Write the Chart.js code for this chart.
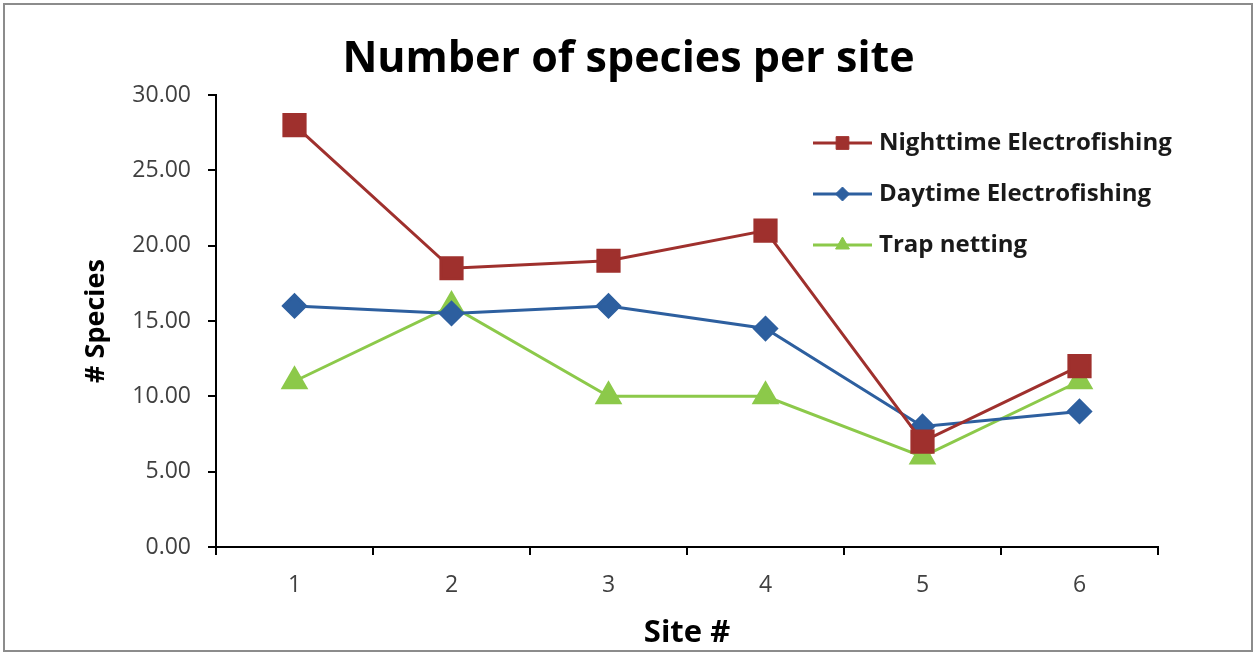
<!DOCTYPE html>
<html>
<head>
<meta charset="utf-8">
<script src="https://cdn.jsdelivr.net/npm/chart.js@4/dist/chart.umd.min.js"></script>
<style>
  html, body { margin: 0; padding: 0; background: #fff; }
  #wrap { position: relative; width: 1257px; height: 655px; }
  #frame { position: absolute; left: 3px; top: 3px; width: 1246px; height: 645px;
           border: 2px solid #8c8c8c; pointer-events: none; }
  canvas { display: block; }
</style>
</head>
<body>
<div id="wrap">
  <canvas id="c" width="1257" height="655"></canvas>
  <div id="frame"></div>
</div>
<script>
// Sites sampled
const sites = ['1', '2', '3', '4', '5', '6'];

// Species counts per site for each sampling method
const nighttimeElectrofishing = [28, 18.5, 19, 21, 7, 12];
const daytimeElectrofishing   = [16, 15.5, 16, 14.5, 8, 9];
const trapNetting             = [11, 16, 10, 10, 6, 11];

// Y axis range
const yMin = 0, yMax = 30, yStep = 5;

const FONT = '"Open Sans", sans-serif';
const RED = '#9f302d', BLUE = '#2d5f9f', GREEN = '#8cc94a';

// Legend drawn inside the plot, top right
const insideLegend = {
  id: 'insideLegend',
  afterDraw(chart, args, opts) {
    const ctx = chart.ctx;
    ctx.save();
    chart.data.datasets.forEach((ds, i) => {
      const y = opts.top + i * opts.rowGap;
      ctx.strokeStyle = ds.borderColor;
      ctx.lineWidth = 3;
      ctx.beginPath();
      ctx.moveTo(opts.x0, y);
      ctx.lineTo(opts.x1, y);
      ctx.stroke();
      ctx.fillStyle = ds.pointBackgroundColor;
      ctx.strokeStyle = ds.pointBorderColor;
      ctx.lineWidth = 1;
      Chart.helpers.drawPoint(ctx, {
        pointStyle: ds.pointStyle,
        radius: opts.markerRadius[i],
        rotation: 0,
        borderWidth: 1
      }, (opts.x0 + opts.x1) / 2, y);
      ctx.fillStyle = '#1a1a1a';
      ctx.font = 'bold 24px ' + FONT;
      ctx.textBaseline = 'middle';
      ctx.textAlign = 'left';
      ctx.fillText(ds.label, opts.textX, y);
    });
    ctx.restore();
  }
};

const series = (label, data, color, style, radius) => ({
  label, data,
  borderColor: color,
  backgroundColor: color,
  pointBackgroundColor: color,
  pointBorderColor: color,
  pointStyle: style,
  pointRadius: radius,
  pointHoverRadius: radius,
  borderWidth: 3,
  tension: 0
});

new Chart(document.getElementById('c'), {
  type: 'line',
  data: {
    labels: sites,
    datasets: [
      series('Nighttime Electrofishing', nighttimeElectrofishing, RED, 'rect', 15),
      series('Daytime Electrofishing', daytimeElectrofishing, BLUE, 'rectRot', 11),
      series('Trap netting', trapNetting, GREEN, 'triangle', 13)
    ]
  },
  options: {
    responsive: false,
    animation: false,
    layout: { padding: 0 },
    plugins: {
      legend: { display: false },
      tooltip: { enabled: false },
      title: {
        display: true,
        text: 'Number of species per site',
        color: '#000',
        font: { family: FONT, size: 43, weight: 'bold', lineHeight: 1.2 },
        padding: { top: 34, bottom: 9.4 }
      },
      insideLegend: {
        x0: 813, x1: 872, textX: 879, top: 143, rowGap: 51,
        markerRadius: [9, 7, 8]
      }
    },
    scales: {
      x: {
        offset: true,
        grid: { offset: true, drawOnChartArea: false, color: '#000', lineWidth: 2, tickLength: 8, tickWidth: 2 },
        border: { color: '#000', width: 2 },
        ticks: { color: '#404040', padding: 17, font: { family: FONT, size: 23 }, maxRotation: 0 },
        title: {
          display: true, text: 'Site #', color: '#000',
          font: { family: FONT, size: 31, weight: 'bold', lineHeight: 1.2 },
          padding: { top: 0, bottom: 3 }
        },
        afterFit(s) { s.height = 108; }
      },
      y: {
        min: yMin, max: yMax,
        grid: { drawOnChartArea: false, color: '#000', lineWidth: 2, tickLength: 8, tickWidth: 2 },
        border: { color: '#000', width: 2 },
        ticks: {
          stepSize: yStep, color: '#404040', padding: 17,
          font: { family: FONT, size: 23 },
          callback: v => Number(v).toFixed(2)
        },
        title: {
          display: true, text: '# Species', color: '#000',
          font: { family: FONT, size: 27, weight: 'bold', lineHeight: 1.2 },
          padding: { top: 80, bottom: 0 }
        },
        afterFit(s) { s.width = 216; }
      },
      // empty margin on the right of the plot
      margin: {
        position: 'right',
        grid: { display: false },
        border: { display: false },
        ticks: { display: false },
        afterFit(s) { s.width = 99; }
      }
    }
  },
  plugins: [insideLegend]
});
</script>
</body>
</html>
